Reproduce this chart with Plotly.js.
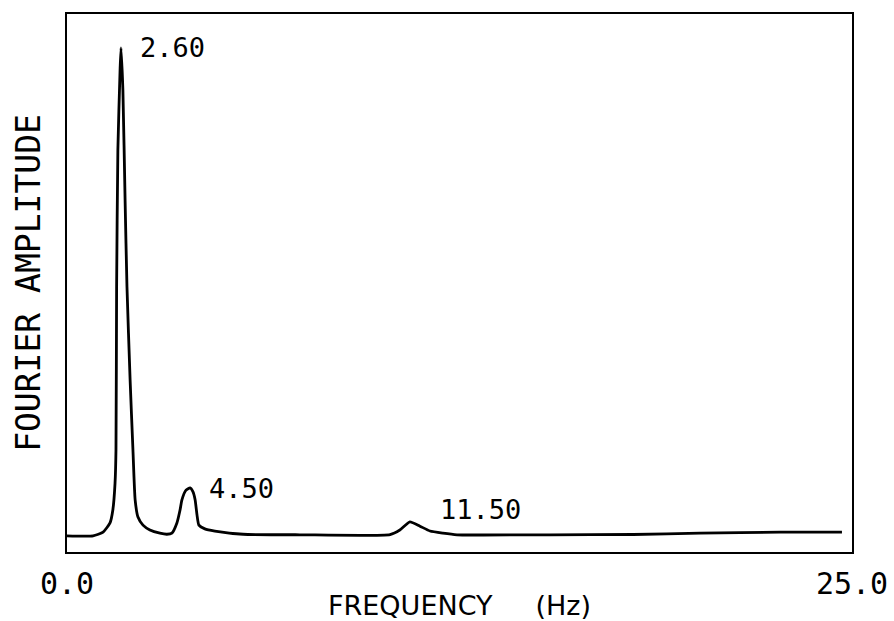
<!DOCTYPE html>
<html>
<head>
<meta charset="utf-8">
<script src="https://cdn.plot.ly/plotly-3.0.1.min.js"></script>
<style>
  html, body { margin: 0; padding: 0; background: #ffffff; }
  #chart { width: 894px; height: 621px; }
</style>
</head>
<body>
<div id="chart"></div>
<script>
// Frequency (Hz) along the traced spectrum
const freq = [0.00, 0.83, 1.15, 1.37, 1.46, 1.53, 1.56, 1.58, 1.62, 1.69, 1.72, 1.78, 1.85, 1.91, 2.01, 2.10, 2.17, 2.26, 2.42, 2.64, 2.96, 3.18, 3.34, 3.50, 3.60, 3.66, 3.79, 3.92, 4.01, 4.08, 4.14, 4.20, 4.39, 4.71, 5.61, 7.42, 10.29, 10.60, 10.92, 11.24, 11.56, 11.97, 12.42, 15.38, 18.03, 20.16, 22.71, 24.68];
// Relative Fourier amplitude (0 = axis bottom, 1 = frame top)
const amp  = [0.030, 0.030, 0.037, 0.054, 0.078, 0.128, 0.190, 0.490, 0.747, 0.896, 0.937, 0.859, 0.654, 0.493, 0.320, 0.190, 0.097, 0.065, 0.050, 0.041, 0.035, 0.033, 0.035, 0.054, 0.078, 0.097, 0.115, 0.119, 0.112, 0.097, 0.069, 0.050, 0.043, 0.039, 0.033, 0.032, 0.0325, 0.041, 0.056, 0.048, 0.039, 0.035, 0.032, 0.032, 0.0325, 0.035, 0.037, 0.037];

// Peak labels
const peakLabels = ['2.60', '4.50', '11.50'];
const peakFreq   = [1.72, 3.92, 10.92];
const peakAmp    = [0.937, 0.119, 0.056];
const labelShiftX = [17, 17, 28];
const labelShiftY = [0, -1, 12];

// Axis ticks
const tickVals = [0, 25];
const tickText = ['0.0', '25.0'];

const trace = {
  x: freq,
  y: amp,
  type: 'scatter',
  mode: 'lines',
  line: { color: '#000000', width: 2.8, shape: 'spline', smoothing: 0.5 },
  hoverinfo: 'skip',
  showlegend: false
};

const annotations = peakLabels.map((t, i) => ({
  x: peakFreq[i],
  y: peakAmp[i],
  xref: 'x',
  yref: 'y',
  text: t,
  showarrow: false,
  xanchor: 'left',
  yanchor: 'middle',
  xshift: labelShiftX[i],
  yshift: labelShiftY[i],
  font: { family: 'DejaVu Sans Mono', size: 27, color: '#000000' }
}));

const layout = {
  width: 894,
  height: 621,
  paper_bgcolor: '#ffffff',
  plot_bgcolor: '#ffffff',
  margin: { l: 67, r: 42, t: 14, b: 69 },
  showlegend: false,
  xaxis: {
    range: [0, 25],
    tickvals: tickVals,
    ticktext: tickText,
    ticks: '',
    ticklabelstandoff: 4,
    showgrid: false,
    zeroline: false,
    showline: true,
    mirror: true,
    linecolor: '#000000',
    linewidth: 2,
    tickfont: { family: 'DejaVu Sans Mono', size: 30, color: '#000000' },
    title: {
      text: 'FREQUENCY\u00A0\u00A0\u00A0\u00A0\u00A0(Hz)\u00A0\u00A0',
      font: { family: 'DejaVu Sans', size: 27, color: '#000000' },
      standoff: 2
    },
    fixedrange: true
  },
  yaxis: {
    range: [0, 1],
    showticklabels: false,
    ticks: '',
    showgrid: false,
    zeroline: false,
    showline: true,
    mirror: true,
    linecolor: '#000000',
    linewidth: 2,
    title: {
      text: 'FOURIER AMPLITUDE',
      font: { family: 'DejaVu Sans Mono', size: 33, color: '#000000' },
      standoff: 14
    },
    fixedrange: true
  },
  annotations: annotations
};

Plotly.newPlot('chart', [trace], layout, { displayModeBar: false, staticPlot: true });
</script>
</body>
</html>
